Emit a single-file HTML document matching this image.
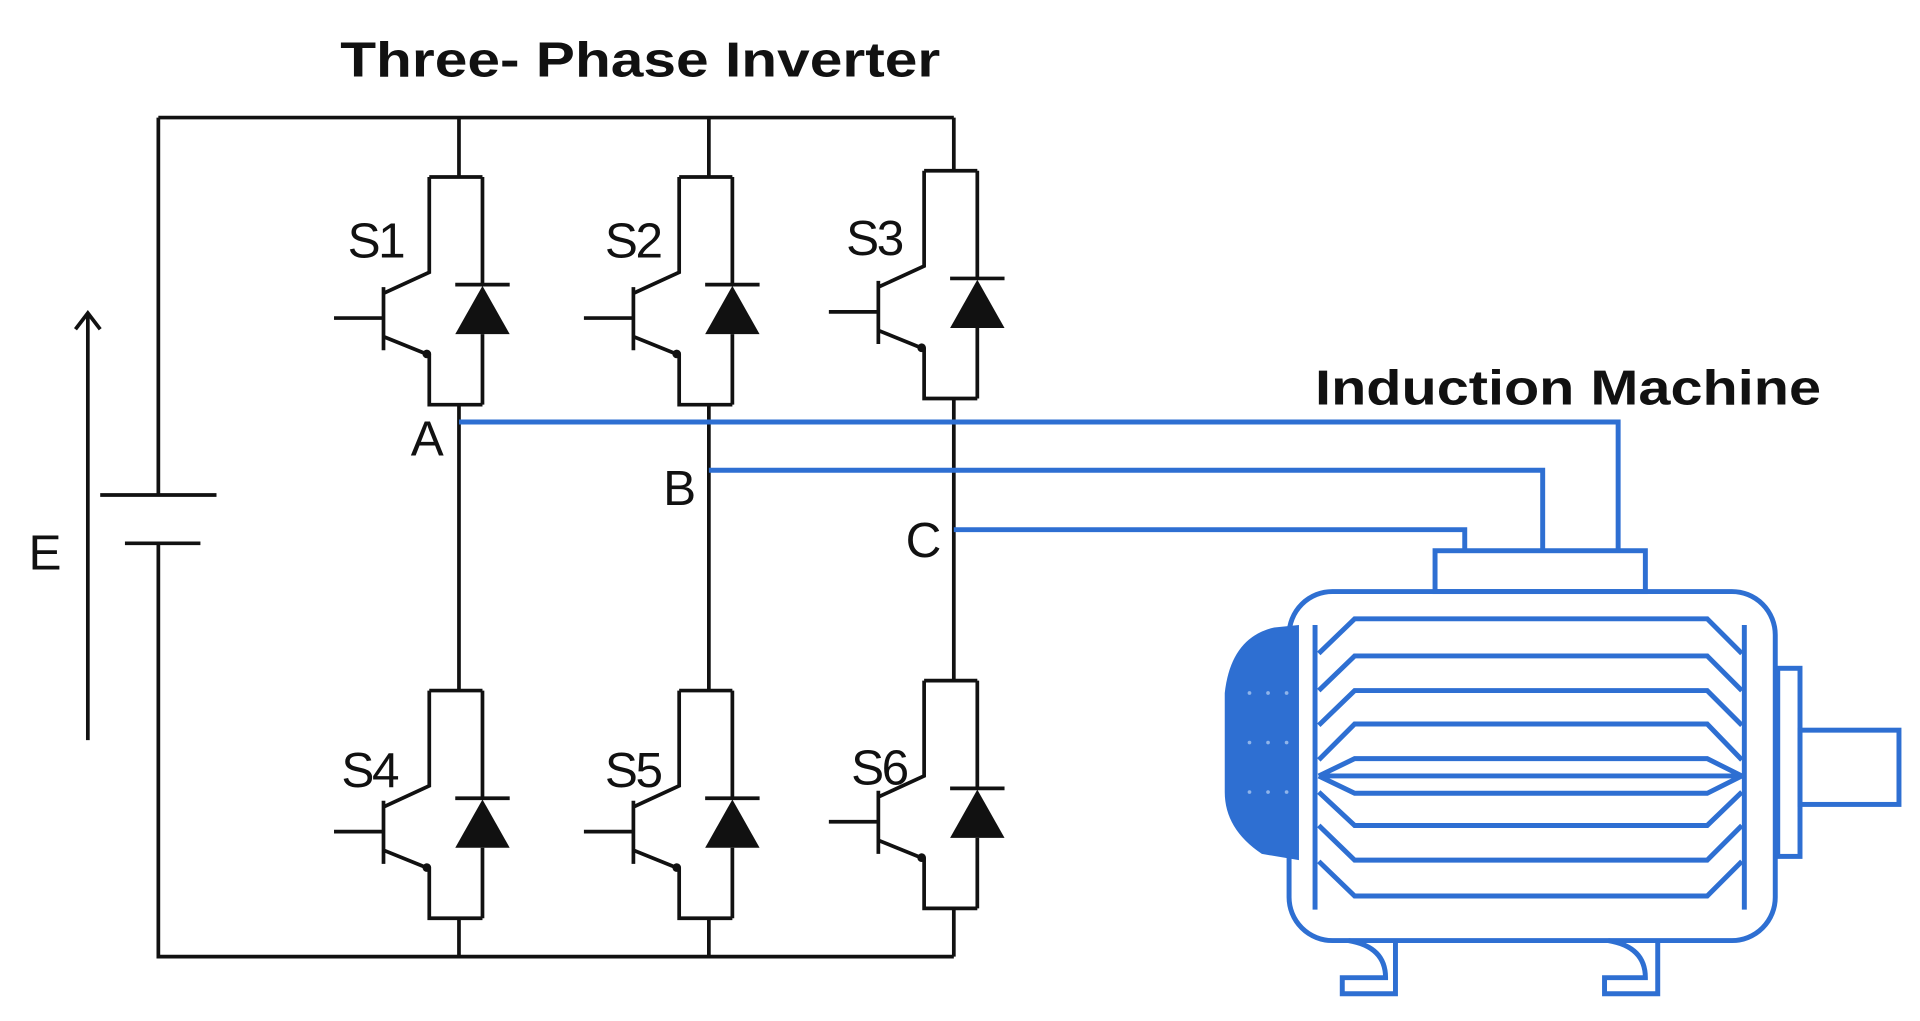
<!DOCTYPE html>
<html><head><meta charset="utf-8"><style>
html,body{margin:0;padding:0;background:#fff;width:1920px;height:1021px;overflow:hidden}
svg{display:block}
text{font-family:"Liberation Sans",Arial,sans-serif}
</style></head><body>
<svg width="1920" height="1021" viewBox="0 0 1552 825" preserveAspectRatio="none" xmlns="http://www.w3.org/2000/svg">
<defs>
<g id="sw" fill="none" stroke="#111" stroke-width="3">
  <path d="M-24 0 H19 M-24 0 V77 L-61 94 M-61 89 V140 M-101 114 H-61 M-61 129 L-24 144 V184 H19 M19 0 V87 M-3 87 H41 M19 127 V184"/>
  <polygon points="-3,127 41,127 19,88" fill="#111" stroke="none"/>
  <circle cx="-26" cy="143" r="3.5" fill="#111" stroke="none"/>
</g>
</defs>
<rect width="1552" height="825" fill="#fff"/>
<text x="275" y="62" font-size="40" font-weight="bold" textLength="485" lengthAdjust="spacingAndGlyphs" fill="#111">Three-  Phase Inverter</text>
<text x="1063" y="327" font-size="40" font-weight="bold" textLength="409" lengthAdjust="spacingAndGlyphs" fill="#111">Induction Machine</text>
<g fill="none" stroke="#111" stroke-width="3">
  <path d="M128 95 H771 M128 95 V400 M128 439 V773 H771"/>
  <path d="M81 400 H175 M101 439 H162"/>
  <path d="M71 598 V253 M61 266 L71 253 L81 266"/>
  <path d="M371 95 V143 M573 95 V143 M771 95 V138"/>
  <path d="M371 327 V558 M573 327 V558 M771 322 V550"/>
  <path d="M371 742 V773 M573 742 V773 M771 734 V773"/>
</g>
<use href="#sw" x="371" y="143"/>
<use href="#sw" x="573" y="143"/>
<use href="#sw" x="771" y="138"/>
<use href="#sw" x="371" y="558"/>
<use href="#sw" x="573" y="558"/>
<use href="#sw" x="771" y="550"/>
<g font-size="40" fill="#111" letter-spacing="-2">
<text x="281" y="208">S1</text><text x="489" y="208">S2</text><text x="684" y="206">S3</text>
<text x="276" y="636">S4</text><text x="489" y="636">S5</text><text x="688" y="634">S6</text>
<text x="332" y="368" letter-spacing="0">A</text><text x="536" y="408" letter-spacing="0">B</text><text x="732" y="450" letter-spacing="0">C</text>
<text x="23" y="460" letter-spacing="0">E</text>
</g>
<g fill="none" stroke="#2e6fd2" stroke-width="4">
  <path d="M371 341 H1308 V445 M573 380 H1247 V445 M771 428 H1184 V445"/>
  <rect x="1160" y="445" width="170" height="33"/>
  <rect x="1042" y="478" width="393" height="282" rx="35"/>
  <path d="M1063 505 V735 M1410 505 V735"/>
  <rect x="1437" y="540" width="18" height="152"/>
  <rect x="1455" y="590" width="80" height="60"/>
  <path d="M1066 528 L1095 500 H1380 L1408 528 M1066 558 L1095 530 H1380 L1408 558 M1066 586 L1095 558 H1380 L1408 586 M1066 614 L1095 585 H1380 L1408 614 M1066 627 L1095 613 H1380 L1408 627 M1066 627 H1408 M1066 627 L1095 641 H1380 L1408 627 M1066 640 L1095 667 H1380 L1408 640 M1066 667 L1095 695 H1380 L1408 667 M1066 696 L1095 724 H1380 L1408 696"/>
  <path d="M1090 760 Q1120 765 1120 790 H1085 V803 H1128 V760 M1300 760 Q1330 765 1330 790 H1297 V803 H1340 V760"/>
</g>
<path d="M1050 505 V695 L1020 690 Q990 670 990 640 V560 Q995 515 1030 507 Z" fill="#2e6fd2"/>
<g fill="#8fb4ea">
  <circle cx="1010" cy="560" r="1.5"/><circle cx="1025" cy="560" r="1.5"/><circle cx="1040" cy="560" r="1.5"/>
  <circle cx="1010" cy="600" r="1.5"/><circle cx="1025" cy="600" r="1.5"/><circle cx="1040" cy="600" r="1.5"/>
  <circle cx="1010" cy="640" r="1.5"/><circle cx="1025" cy="640" r="1.5"/><circle cx="1040" cy="640" r="1.5"/>
</g>
</svg>
</body></html>
